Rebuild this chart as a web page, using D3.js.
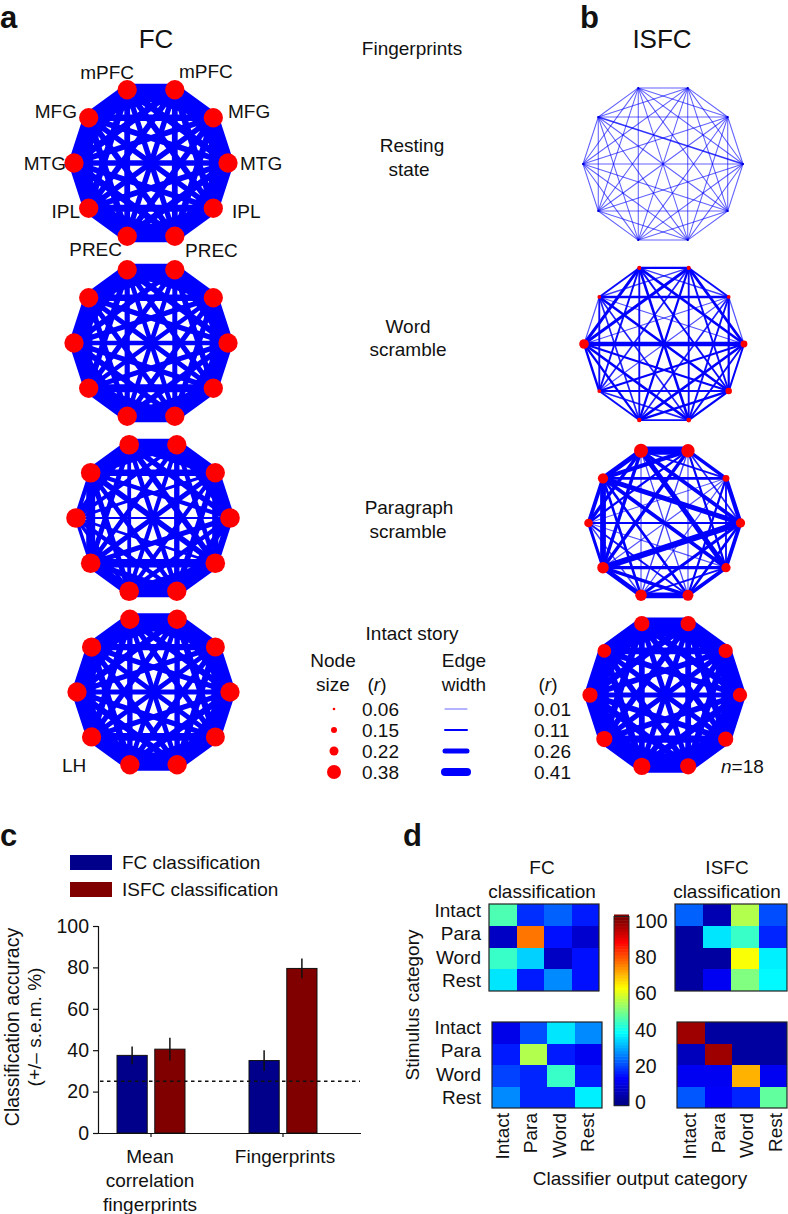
<!DOCTYPE html>
<html>
<head>
<meta charset="utf-8">
<script src="https://cdn.jsdelivr.net/npm/d3@7"></script>
<style>
    html, body { margin: 0; padding: 0; background: #fff; }
    svg { display: block; }
    text { font-family: "Liberation Sans", Arial, sans-serif; fill: #111; }
</style>
</head>
<body>
<svg id="figure" width="788" height="1214"></svg>
<script>
// Nodes run clockwise from the left mPFC
var regionNames = ["mPFC", "mPFC", "MFG", "MTG", "IPL", "PREC", "PREC", "IPL", "MTG", "MFG"];

// Node strength (r), one per region
var fcRestNodes = [.55, .55, .55, .55, .55, .55, .55, .55, .55, .55];
var fcWordNodes = [.55, .55, .55, .55, .55, .55, .55, .55, .55, .55];
var fcParaNodes = [.56, .55, .55, .56, .56, .55, .56, .56, .56, .56];
var fcIntactNodes = [.55, .55, .54, .55, .54, .55, .55, .55, .55, .55];
var isfcRestNodes = [.01, .01, .01, .01, .01, .01, .01, .01, .01, .01];
var isfcWordNodes = [.10, .10, .09, .17, .16, .12, .11, .09, .24, .09];
var isfcParaNodes = [.38, .36, .17, .23, .23, .28, .30, .30, .21, .26];
var isfcIntactNodes = [.42, .42, .39, .39, .42, .45, .48, .45, .42, .37];

// Edge strength (r): upper triangle, row i holds i-(i+1) ... i-9
var fcRestEdges = [
    .60, .45, .34, .30, .28, .30, .34, .44, .58,
    .58, .44, .33, .30, .28, .30, .34, .44,
    .58, .44, .33, .30, .28, .30, .34,
    .58, .44, .34, .30, .28, .30,
    .58, .44, .36, .30, .28,
    .62, .44, .34, .30,
    .58, .44, .33,
    .56, .44,
    .56
];
var fcWordEdges = [
    .60, .42, .31, .27, .24, .27, .30, .40, .54,
    .54, .40, .29, .26, .24, .27, .28, .36,
    .54, .38, .28, .26, .24, .27, .34,
    .52, .38, .30, .26, .24, .27,
    .54, .38, .40, .27, .26,
    .60, .38, .30, .26,
    .54, .38, .28,
    .50, .38,
    .50
];
var fcParaEdges = [
    .60, .38, .28, .30, .24, .20, .26, .32, .50,
    .50, .34, .24, .28, .22, .24, .20, .32,
    .48, .32, .30, .22, .26, .16, .34,
    .34, .32, .22, .26, .12, .22,
    .52, .34, .44, .14, .30,
    .62, .30, .22, .24,
    .50, .18, .28,
    .18, .46,
    .22
];
var fcIntactEdges = [
    .60, .44, .33, .28, .25, .28, .33, .42, .56,
    .56, .42, .33, .28, .25, .28, .33, .42,
    .56, .42, .33, .28, .25, .28, .32,
    .56, .42, .33, .28, .25, .28,
    .56, .42, .40, .28, .25,
    .62, .42, .33, .28,
    .56, .42, .33,
    .54, .42,
    .54
];
var isfcRestEdges = [
    .015, .015, .015, .015, .015, .015, .015, .015, .015,
    .015, .015, .015, .015, .015, .015, .015, .015,
    .015, .015, .015, .015, .015, .015, .015,
    .015, .015, .015, .015, .015, .06,
    .015, .015, .015, .015, .015,
    .015, .015, .015, .015,
    .015, .015, .015,
    .015, .015,
    .015
];
var isfcWordEdges = [
    .13, .05, .14, .10, .14, .10, .10, .16, .10,
    .10, .15, .10, .10, .12, .08, .16, .05,
    .03, .12, .10, .08, .03, .03, .13,
    .11, .10, .14, .11, .24, .03,
    .12, .13, .10, .12, .14,
    .10, .08, .14, .08,
    .10, .12, .08,
    .13, .10,
    .03
];
var isfcParaEdges = [
    .42, .10, .20, .26, .04, .03, .18, .18, .26,
    .18, .08, .12, .03, .05, .18, .12, .22,
    .22, .10, .12, .03, .03, .02, .14,
    .20, .14, .16, .32, .12, .26,
    .20, .10, .18, .03, .20,
    .30, .18, .10, .14,
    .24, .05, .14,
    .16, .30,
    .20
];
var isfcIntactEdges = [
    .62, .46, .34, .30, .27, .30, .34, .46, .60,
    .60, .46, .34, .30, .27, .30, .34, .46,
    .60, .46, .34, .30, .27, .30, .34,
    .60, .46, .34, .30, .27, .30,
    .60, .46, .38, .30, .27,
    .64, .46, .34, .30,
    .60, .46, .34,
    .60, .46,
    .60
];

// Legend
var nodeLegendValues = [0.06, 0.15, 0.22, 0.38];
var edgeLegendValues = [0.01, 0.11, 0.26, 0.41];

// Panel c
var barGroups = ["Mean correlation fingerprints", "Fingerprints"];
var barSeries = ["FC classification", "ISFC classification"];
var fcAccuracy = [37.5, 35];
var isfcAccuracy = [40.5, 79.5];
var fcError = [4.3, 5];
var isfcError = [5.5, 4.8];
var chanceLevel = 25;
var accuracyTicks = [0, 20, 40, 60, 80, 100];

// Panel d, rows are stimulus category, columns classifier output
var categories = ["Intact", "Para", "Word", "Rest"];
var fcMeanConfusion = [
    [45, 17, 22, 15],
    [6, 76, 14, 7],
    [43, 33, 6, 14],
    [35, 15, 26, 14]
];
var isfcMeanConfusion = [
    [22, 4, 55, 20],
    [2, 35, 43, 16],
    [2, 2, 62, 36],
    [2, 11, 50, 37]
];
var fcFingerprintConfusion = [
    [10, 20, 35, 26],
    [15, 55, 15, 11],
    [19, 16, 43, 15],
    [26, 16, 16, 36]
];
var isfcFingerprintConfusion = [
    [97, 2, 2, 2],
    [5, 97, 2, 2],
    [11, 11, 70, 11],
    [21, 12, 16, 47]
];
var colorbarTicks = [0, 20, 40, 60, 80, 100];

var svg = d3.select("#figure");

function label(x, y, str, size, anchor) {
    return svg.append("text")
        .attr("x", x)
        .attr("y", y)
        .attr("font-size", size || 19)
        .attr("text-anchor", anchor || "start")
        .text(str);
}

function rLabel(x, y) {
    var t = label(x, y, "(", 19, "middle");
    t.append("tspan").attr("font-style", "italic").text("r");
    t.append("tspan").text(")");
}

// Scales
var nodeRadius = d3.scaleLinear().domain([0.01, 0.06, 0.15, 0.22, 0.38]).range([0.9, 1.3, 3, 4.5, 7]);
var edgeWidth = d3.scaleLinear().domain([0.01, 0.11, 0.26, 0.41]).range([1, 2, 5, 8]);
var edgeOpacity = d3.scaleLinear().domain([0.01, 0.11]).range([0.6, 1]).clamp(true);

// Flat-topped decagon, first node just left of the top
var nodeAngle = d3.scaleLinear().domain([0, 10]).range([-0.1 * Math.PI, 1.9 * Math.PI]);

function edgeList(values) {
    var out = [], k = 0;
    for (var i = 0; i < 10; i++) {
        for (var j = i + 1; j < 10; j++) {
            out.push({ source: i, target: j, value: values[k++] });
        }
    }
    return out;
}

function networkGraph(cx, cy, radius, nodes, edges) {
    var g = svg.append("g")
        .attr("class", "network")
        .attr("transform", "translate(" + cx + "," + cy + ")");

    var px = function(i) { return radius * Math.sin(nodeAngle(i)); };
    var py = function(i) { return -radius * Math.cos(nodeAngle(i)); };

    g.selectAll("line")
        .data(edgeList(edges))
        .enter()
        .append("line")
        .attr("x1", function(d) { return px(d.source); })
        .attr("y1", function(d) { return py(d.source); })
        .attr("x2", function(d) { return px(d.target); })
        .attr("y2", function(d) { return py(d.target); })
        .attr("stroke", "#0000ff")
        .attr("stroke-linecap", "round")
        .attr("stroke-width", function(d) { return edgeWidth(d.value); })
        .attr("stroke-opacity", function(d) { return edgeOpacity(d.value); });

    g.selectAll("circle")
        .data(nodes)
        .enter()
        .append("circle")
        .attr("cx", function(d, i) { return px(i); })
        .attr("cy", function(d, i) { return py(i); })
        .attr("r", function(d) { return nodeRadius(d); })
        .attr("fill", function(d) { return d < 0.05 ? "#0000c8" : "#ff0000"; });
}

// Panels a and b
networkGraph(151, 163, 77, fcRestNodes, fcRestEdges);
networkGraph(151, 343, 77, fcWordNodes, fcWordEdges);
networkGraph(153, 518, 77, fcParaNodes, fcParaEdges);
networkGraph(153.5, 692, 76.5, fcIntactNodes, fcIntactEdges);
networkGraph(663, 164, 80, isfcRestNodes, isfcRestEdges);
networkGraph(664, 344, 80, isfcWordNodes, isfcWordEdges);
networkGraph(664.5, 523, 76, isfcParaNodes, isfcParaEdges);
networkGraph(665, 695, 75, isfcIntactNodes, isfcIntactEdges);

label(0, 28, "a", 31).attr("font-weight", "bold");
label(580, 28, "b", 31).attr("font-weight", "bold");
label(0, 846, "c", 31).attr("font-weight", "bold");
label(403, 846, "d", 31).attr("font-weight", "bold");

label(156, 48, "FC", 26, "middle");
label(662, 48, "ISFC", 26, "middle");

// Region labels around the first FC graph
var regionLabelPos = [
    [134, 79, "end"], [179, 78, "start"], [228, 118, "start"], [240, 170, "start"], [232, 218, "start"],
    [185, 257, "start"], [122, 256, "end"], [80, 218, "end"], [66, 170, "end"], [77, 118, "end"]
];
regionNames.forEach(function(name, i) {
    var p = regionLabelPos[i];
    label(p[0], p[1], name, 19, p[2]);
});
label(62, 772, "LH", 19);

// Condition names down the middle
label(412, 55, "Fingerprints", 19, "middle");
label(412, 152, "Resting", 19, "middle");
label(409, 176, "state", 19, "middle");
label(408, 333, "Word", 19, "middle");
label(408, 356, "scramble", 19, "middle");
label(409, 514, "Paragraph", 19, "middle");
label(408, 538, "scramble", 19, "middle");
label(412, 640, "Intact story", 19, "middle");

// Size legend
label(333, 667, "Node", 19, "middle");
label(333, 691, "size", 19, "middle");
rLabel(377, 691);
label(464, 667, "Edge", 19, "middle");
label(464, 691, "width", 19, "middle");
rLabel(548, 691);

var legendRow = d3.scalePoint().domain([0, 1, 2, 3]).range([709, 772]);

svg.append("g").selectAll("circle")
    .data(nodeLegendValues)
    .enter()
    .append("circle")
    .attr("cx", 334)
    .attr("cy", function(d, i) { return legendRow(i); })
    .attr("r", function(d) { return nodeRadius(d); })
    .attr("fill", "#ff0000");

svg.append("g").selectAll("line")
    .data(edgeLegendValues)
    .enter()
    .append("line")
    .attr("x1", 445)
    .attr("x2", 467)
    .attr("y1", function(d, i) { return legendRow(i); })
    .attr("y2", function(d, i) { return legendRow(i); })
    .attr("stroke", "#0000ff")
    .attr("stroke-linecap", "round")
    .attr("stroke-width", function(d) { return edgeWidth(d); })
    .attr("stroke-opacity", function(d) { return edgeOpacity(d); });

nodeLegendValues.forEach(function(v, i) {
    label(362, legendRow(i) + 6.5, v.toFixed(2), 19);
});
edgeLegendValues.forEach(function(v, i) {
    label(534, legendRow(i) + 6.5, v.toFixed(2), 19);
});
label(721, 773, "", 19).call(function(t) {
    t.append("tspan").attr("font-style", "italic").text("n");
    t.append("tspan").text("=18");
});

// Panel c, bar chart
var barColors = ["#00008b", "#800000"];
var groupX = d3.scaleBand().domain(barGroups).range([85, 349]).padding(0);
var seriesX = d3.scaleBand().domain(barSeries).range([-34, 34]).paddingInner(0.2);
var accuracyY = d3.scaleLinear().domain([0, 100]).range([1133, 926]);

[fcAccuracy, isfcAccuracy].forEach(function(values, s) {
    var errs = s === 0 ? fcError : isfcError;
    var bars = svg.append("g").attr("class", "bars");
    values.forEach(function(v, g) {
        var x0 = groupX(barGroups[g]) + groupX.bandwidth() / 2 + seriesX(barSeries[s]);
        bars.append("rect")
            .attr("x", x0)
            .attr("y", accuracyY(v))
            .attr("width", seriesX.bandwidth())
            .attr("height", accuracyY(0) - accuracyY(v))
            .attr("fill", barColors[s])
            .attr("stroke", "#111")
            .attr("stroke-width", 1);
        bars.append("line")
            .attr("x1", x0 + seriesX.bandwidth() / 2)
            .attr("x2", x0 + seriesX.bandwidth() / 2)
            .attr("y1", accuracyY(v - errs[g]))
            .attr("y2", accuracyY(v + errs[g]))
            .attr("stroke", "#111")
            .attr("stroke-width", 1.5);
    });
});

var axisY = svg.append("g")
    .attr("transform", "translate(98,0)")
    .call(d3.axisLeft(accuracyY).tickValues(accuracyTicks).tickSize(5).tickPadding(4));
axisY.selectAll("text").attr("font-size", 19.5);
axisY.selectAll("line, path").attr("stroke", "#111").attr("stroke-width", 1.2);

var axisX = svg.append("g")
    .attr("transform", "translate(0,1133)")
    .call(d3.axisBottom(groupX).tickSize(4).tickFormat(""));
axisX.select("path").attr("d", "M93,0.5H361").attr("stroke", "#111").attr("stroke-width", 1.2);
axisX.selectAll("line").attr("stroke", "#111").attr("stroke-width", 1.2);

svg.append("line")
    .attr("x1", 100)
    .attr("x2", 360)
    .attr("y1", accuracyY(chanceLevel))
    .attr("y2", accuracyY(chanceLevel))
    .attr("stroke", "#111")
    .attr("stroke-width", 1.4)
    .attr("stroke-dasharray", "3.5,3.5");

label(150, 1163, "Mean", 19, "middle");
label(150, 1187, "correlation", 19, "middle");
label(150, 1211, "fingerprints", 19, "middle");
label(285, 1163, "Fingerprints", 19, "middle");

label(0, 0, "Classification accuracy", 19.5, "middle")
    .attr("transform", "translate(19,1027) rotate(-90)");
label(0, 0, "(+/\u2013 s.e.m. %)", 19, "middle")
    .attr("transform", "translate(41,1027) rotate(-90)");

barSeries.forEach(function(name, i) {
    var y0 = i === 0 ? 855 : 882;
    svg.append("rect")
        .attr("x", 70)
        .attr("y", y0)
        .attr("width", 42)
        .attr("height", 15)
        .attr("fill", barColors[i]);
    label(122, y0 + 14, name, 19);
});

// Panel d, confusion matrices
var jet = d3.scaleLinear()
    .domain([0, 12.5, 37.5, 62.5, 87.5, 100])
    .range(["#00008f", "#0000ff", "#00ffff", "#ffff00", "#ff0000", "#800000"]);

function confusionMatrix(x0, y0, w, h, matrix) {
    var col = d3.scaleBand().domain(d3.range(4)).range([x0, x0 + w]);
    var row = d3.scaleBand().domain(d3.range(4)).range([y0, y0 + h]);
    var g = svg.append("g").attr("class", "matrix");
    g.selectAll("g")
        .data(matrix)
        .enter()
        .append("g")
        .selectAll("rect")
        .data(function(d, r) {
            return d.map(function(v, c) { return { r: r, c: c, v: v }; });
        })
        .enter()
        .append("rect")
        .attr("x", function(d) { return col(d.c); })
        .attr("y", function(d) { return row(d.r); })
        .attr("width", col.bandwidth())
        .attr("height", row.bandwidth())
        .attr("shape-rendering", "crispEdges")
        .attr("fill", function(d) { return jet(d.v); });
    g.append("rect")
        .attr("x", x0)
        .attr("y", y0)
        .attr("width", w)
        .attr("height", h)
        .attr("fill", "none")
        .attr("stroke", "#222")
        .attr("stroke-width", 1.2);
}

confusionMatrix(489, 904, 110, 87, fcMeanConfusion);
confusionMatrix(675, 904, 112, 87, isfcMeanConfusion);
confusionMatrix(492, 1022, 110, 86, fcFingerprintConfusion);
confusionMatrix(677, 1022, 110, 86, isfcFingerprintConfusion);

var topRows = d3.scalePoint().domain(categories).range([910, 980]);
var bottomRows = d3.scalePoint().domain(categories).range([1027, 1097]);
var fcCols = d3.scalePoint().domain(categories).range([502, 587]);
var isfcCols = d3.scalePoint().domain(categories).range([689, 775]);

categories.forEach(function(c) {
    label(481, topRows(c) + 7, c, 19, "end");
    label(481, bottomRows(c) + 7, c, 19, "end");
    label(0, 0, c, 19, "end").attr("transform", "translate(" + (fcCols(c) + 7) + ",1113) rotate(-90)");
    label(0, 0, c, 19, "end").attr("transform", "translate(" + (isfcCols(c) + 7) + ",1113) rotate(-90)");
});

label(542, 874, "FC", 19, "middle");
label(542, 898, "classification", 19, "middle");
label(727, 874, "ISFC", 19, "middle");
label(727, 898, "classification", 19, "middle");
label(0, 0, "Stimulus category", 19, "middle").attr("transform", "translate(419,1005) rotate(-90)");
label(640, 1185, "Classifier output category", 19, "middle");

// Colorbar
var colorbarY = d3.scaleLinear().domain([0, 100]).range([1102, 921]);
var colorbarSteps = d3.range(-2, 103, 1.6);
svg.append("g").selectAll("rect")
    .data(colorbarSteps)
    .enter()
    .append("rect")
    .attr("x", 614)
    .attr("y", function(d) { return colorbarY(d + 1.6); })
    .attr("width", 15)
    .attr("height", colorbarY(0) - colorbarY(1.6) + 0.5)
    .attr("fill", function(d) { return jet(Math.max(0, Math.min(100, d))); });
svg.append("rect")
    .attr("x", 614)
    .attr("y", colorbarY(102.5))
    .attr("width", 15)
    .attr("height", colorbarY(-2) - colorbarY(102.5))
    .attr("fill", "none")
    .attr("stroke", "#222");

colorbarTicks.forEach(function(v) {
    label(635, colorbarY(v) + 7, String(v), 19.5);
});
</script>
</body>
</html>
